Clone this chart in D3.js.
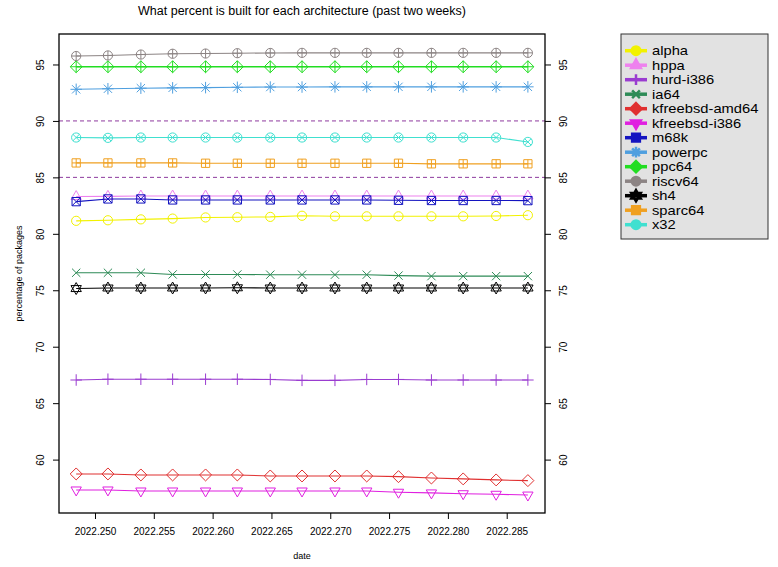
<!DOCTYPE html>
<html>
<head>
<meta charset="utf-8">
<script src="https://cdn.jsdelivr.net/npm/d3@7"></script>
<style>
  html, body { margin: 0; padding: 0; background: #ffffff; }
  svg { display: block; }
  text { font-family: "Liberation Sans", Arial, sans-serif; fill: #000; }
</style>
</head>
<body>
<svg id="chart" width="778" height="567"></svg>
<script>
// ---------------- data ----------------
const dates = [2022.2484, 2022.2511, 2022.2539, 2022.2566, 2022.2594, 2022.2621, 2022.2649,
               2022.2676, 2022.2704, 2022.2731, 2022.2758, 2022.2786, 2022.2813, 2022.2841, 2022.2868];

const architectures = ["alpha", "hppa", "hurd-i386", "ia64", "kfreebsd-amd64", "kfreebsd-i386",
                       "m68k", "powerpc", "ppc64", "riscv64", "sh4", "sparc64", "x32"];

const alpha          = [81.15, 81.20, 81.28, 81.35, 81.45, 81.47, 81.50, 81.60, 81.55, 81.55, 81.55, 81.55, 81.55, 81.58, 81.65];
const hppa           = [83.30, 83.32, 83.35, 83.35, 83.35, 83.35, 83.35, 83.35, 83.35, 83.35, 83.35, 83.35, 83.35, 83.35, 83.35];
const hurd_i386      = [67.05, 67.12, 67.12, 67.12, 67.12, 67.12, 67.10, 67.02, 67.02, 67.10, 67.10, 67.05, 67.05, 67.05, 67.05];
const ia64           = [76.55, 76.55, 76.55, 76.40, 76.40, 76.40, 76.38, 76.38, 76.38, 76.38, 76.30, 76.25, 76.25, 76.25, 76.25];
const kfreebsd_amd64 = [58.73, 58.73, 58.64, 58.64, 58.64, 58.64, 58.55, 58.55, 58.55, 58.55, 58.49, 58.37, 58.29, 58.20, 58.14];
const kfreebsd_i386  = [57.31, 57.31, 57.22, 57.22, 57.22, 57.22, 57.22, 57.22, 57.22, 57.22, 57.11, 57.05, 56.98, 56.93, 56.86];
const m68k           = [82.85, 83.09, 83.09, 83.00, 83.00, 83.00, 83.00, 83.00, 83.00, 83.00, 82.97, 82.95, 82.95, 82.95, 82.94];
const powerpc        = [92.80, 92.85, 92.90, 92.93, 92.95, 92.98, 93.00, 93.00, 93.02, 93.02, 93.02, 93.02, 93.02, 93.02, 93.02];
const ppc64          = [94.80, 94.80, 94.80, 94.80, 94.80, 94.80, 94.80, 94.80, 94.80, 94.80, 94.80, 94.80, 94.80, 94.80, 94.80];
const riscv64        = [95.75, 95.80, 95.88, 95.95, 95.97, 96.00, 96.02, 96.03, 96.03, 96.03, 96.03, 96.03, 96.03, 96.03, 96.03];
const sh4            = [75.15, 75.20, 75.20, 75.20, 75.20, 75.22, 75.20, 75.20, 75.20, 75.20, 75.20, 75.20, 75.20, 75.20, 75.20];
const sparc64        = [86.28, 86.28, 86.28, 86.28, 86.25, 86.25, 86.25, 86.25, 86.25, 86.25, 86.25, 86.20, 86.20, 86.20, 86.20];
const x32            = [88.53, 88.50, 88.53, 88.53, 88.53, 88.53, 88.53, 88.53, 88.53, 88.53, 88.53, 88.53, 88.53, 88.53, 88.14];

const seriesValues = [alpha, hppa, hurd_i386, ia64, kfreebsd_amd64, kfreebsd_i386,
                      m68k, powerpc, ppc64, riscv64, sh4, sparc64, x32];

const colors  = ["#f2f200", "#ee82ee", "#9a3cd0", "#2e8b57", "#e03030", "#e020e0",
                 "#1414c0", "#4f9fdf", "#22dd22", "#8c8484", "#000000", "#f0a020", "#40e0d0"];
const symbols = ["circle", "triUp", "plus", "cross", "diamond", "triDown",
                 "squareX", "asterisk", "diamondPlus", "circlePlus", "star", "squarePlus", "circleX"];

const xTicks = [2022.250, 2022.255, 2022.260, 2022.265, 2022.270, 2022.275, 2022.280, 2022.285];
const yTicks = [60, 65, 70, 75, 80, 85, 90, 95];
const refLines = [85, 90];
const xDomain = [2022.24694, 2022.288255];
const yDomain = [55.27, 97.70];

const titleText = "What percent is built for each architecture (past two weeks)";
const xLabel = "date";
const yLabel = "percentage of packages";

// ---------------- layout ----------------
const plot = { left: 59, right: 545, top: 34, bottom: 513 };
const svg = d3.select("#chart");

const x = d3.scaleLinear().domain(xDomain).range([plot.left, plot.right]);
const y = d3.scaleLinear().domain(yDomain).range([plot.bottom, plot.top]);

function markerPath(type, s) {
  const p = d3.path();
  const circle = (r) => { p.moveTo(r, 0); p.arc(0, 0, r, 0, 2 * Math.PI); };
  const plus = (r) => { p.moveTo(-r, 0); p.lineTo(r, 0); p.moveTo(0, -r); p.lineTo(0, r); };
  const cross = (r) => { p.moveTo(-r, -r); p.lineTo(r, r); p.moveTo(-r, r); p.lineTo(r, -r); };
  const tri = (r, dir) => {
    p.moveTo(0, -dir * r);
    p.lineTo(r * 0.866, dir * r * 0.5);
    p.lineTo(-r * 0.866, dir * r * 0.5);
    p.closePath();
  };
  const diamond = (r) => { p.moveTo(0, -r); p.lineTo(r, 0); p.lineTo(0, r); p.lineTo(-r, 0); p.closePath(); };
  const square = (r) => { p.rect(-r, -r, 2 * r, 2 * r); };
  switch (type) {
    case "circle": circle(s); break;
    case "triUp": tri(s * 1.3, 1); break;
    case "plus": plus(s * 1.25); break;
    case "cross": cross(s * 0.9); break;
    case "diamond": diamond(s * 1.3); break;
    case "triDown": tri(s * 1.3, -1); break;
    case "squareX": square(s * 0.9); cross(s * 0.9); break;
    case "asterisk": plus(s * 1.25); cross(s * 0.9); break;
    case "diamondPlus": diamond(s * 1.3); plus(s * 1.3); break;
    case "circlePlus": circle(s); plus(s); break;
    case "star": tri(s * 1.3, 1); tri(s * 1.3, -1); break;
    case "squarePlus": square(s * 0.9); plus(s * 0.9); break;
    case "circleX": circle(s); cross(s * 0.7071); break;
  }
  return p.toString();
}

// ---------------- title & labels ----------------
svg.append("text")
  .attr("x", (plot.left + plot.right) / 2).attr("y", 15)
  .attr("text-anchor", "middle").style("font-size", "12.5px")
  .text(titleText);

svg.append("text")
  .attr("x", (plot.left + plot.right) / 2).attr("y", 559)
  .attr("text-anchor", "middle").style("font-size", "9px")
  .text(xLabel);

svg.append("text")
  .attr("transform", `translate(22,${(plot.top + plot.bottom) / 2}) rotate(-90)`)
  .attr("text-anchor", "middle").style("font-size", "9px")
  .text(yLabel);

// ---------------- reference lines ----------------
svg.append("g").selectAll("line").data(refLines).join("line")
  .attr("x1", plot.left).attr("x2", plot.right)
  .attr("y1", d => y(d)).attr("y2", d => y(d))
  .attr("stroke", "#8e3a9e").attr("stroke-width", 1)
  .attr("stroke-dasharray", "4,3");

// ---------------- series ----------------
const line = d3.line().x((d, i) => x(dates[i])).y(d => y(d));
const seriesG = svg.append("g");
seriesValues.forEach((vals, k) => {
  const g = seriesG.append("g");
  g.append("path")
    .attr("d", line(vals))
    .attr("fill", "none")
    .attr("stroke", colors[k])
    .attr("stroke-width", k === 8 ? 1.6 : 1.1);
  g.selectAll("path.m").data(vals).join("path")
    .attr("class", "m")
    .attr("transform", (d, i) => `translate(${x(dates[i])},${y(d)})`)
    .attr("d", markerPath(symbols[k], 4.6))
    .attr("fill", "none")
    .attr("stroke", colors[k])
    .attr("stroke-width", 1);
});

// ---------------- box & axes ----------------
svg.append("rect")
  .attr("x", plot.left).attr("y", plot.top)
  .attr("width", plot.right - plot.left).attr("height", plot.bottom - plot.top)
  .attr("fill", "none").attr("stroke", "#000").attr("stroke-width", 1.3);

const xAxis = d3.axisBottom(x).tickValues(xTicks).tickFormat(d3.format(".3f"))
  .tickSize(6).tickPadding(9).tickSizeOuter(0);
const gx = svg.append("g").attr("transform", `translate(0,${plot.bottom})`).call(xAxis);
gx.select(".domain").remove();
gx.selectAll("text").style("font-size", "10px").style("font-family", '"Liberation Sans", Arial, sans-serif');

const yAxisL = d3.axisLeft(y).tickValues(yTicks).tickSize(6).tickSizeOuter(0);
const gyl = svg.append("g").attr("transform", `translate(${plot.left},0)`).call(yAxisL);
gyl.select(".domain").remove();
gyl.selectAll(".tick text")
  .attr("x", null).attr("dy", null)
  .attr("transform", "translate(-15,0) rotate(-90)")
  .attr("text-anchor", "middle")
  .style("font-size", "10px").style("font-family", '"Liberation Sans", Arial, sans-serif');

const yAxisR = d3.axisRight(y).tickValues(yTicks).tickSize(6).tickSizeOuter(0);
const gyr = svg.append("g").attr("transform", `translate(${plot.right},0)`).call(yAxisR);
gyr.select(".domain").remove();
gyr.selectAll(".tick text")
  .attr("x", null).attr("dy", null)
  .attr("transform", "translate(22,0) rotate(-90)")
  .attr("text-anchor", "middle")
  .style("font-size", "10px").style("font-family", '"Liberation Sans", Arial, sans-serif');

// ---------------- legend ----------------
const leg = { x: 621, y: 34, w: 147, h: 205, row0: 50.7, step: 14.5 };
const lg = svg.append("g");
lg.append("rect")
  .attr("x", leg.x).attr("y", leg.y).attr("width", leg.w).attr("height", leg.h)
  .attr("fill", "#e2e2e2").attr("stroke", "#333").attr("stroke-width", 1);
architectures.forEach((name, k) => {
  const cy = leg.row0 + k * leg.step;
  lg.append("line")
    .attr("x1", 625).attr("x2", 647).attr("y1", cy).attr("y2", cy)
    .attr("stroke", colors[k]).attr("stroke-width", 3.5);
  lg.append("path")
    .attr("transform", `translate(636,${cy})`)
    .attr("d", markerPath(symbols[k], 4.3))
    .attr("fill", symbols[k] === "plus" || symbols[k] === "cross" || symbols[k] === "asterisk" ? "none" : colors[k])
    .attr("stroke", colors[k]).attr("stroke-width", 2.5);
  lg.append("text")
    .attr("transform", `translate(652,${cy + 4.6}) scale(1.16,1)`)
    .style("font-size", "12.7px")
    .text(name);
});
</script>
</body>
</html>
